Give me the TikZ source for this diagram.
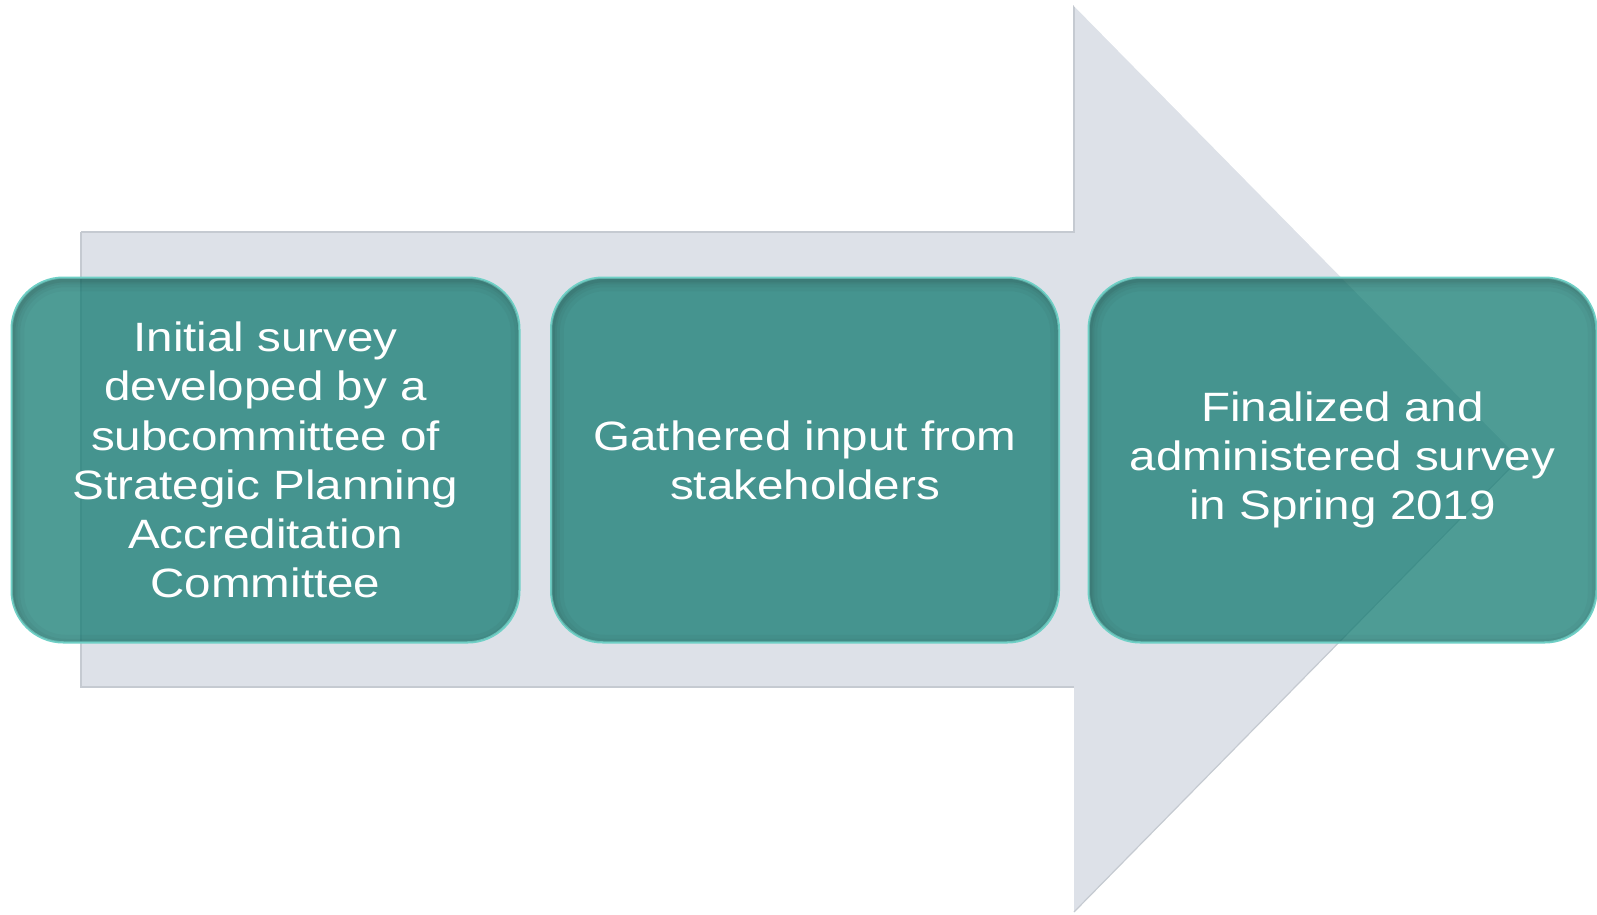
\documentclass[tikz,border=0pt]{standalone}
\usepackage{fontspec}
\setmainfont[FakeStretch=1.16]{Liberation Sans}
\definecolor{arrowgray}{HTML}{DDE1E8}
\definecolor{arrowedge}{HTML}{C5CAD1}
\definecolor{boxteal}{HTML}{137B72}
\definecolor{boxrim}{HTML}{6FD0C6}
\definecolor{boxshade}{HTML}{2A3F3D}
\tikzset{
  stagebox/.style={rounded corners=52pt, minimum width=507pt, minimum height=364pt,
    fill=boxteal, fill opacity=0.75, text opacity=1, draw=boxrim, line width=1.5pt,
    text=white, align=center, inner sep=0pt,
    font=\fontsize{41}{49.3}\selectfont},
  rimline/.style={draw=boxrim, line width=1.5pt, rounded corners=52pt}
}
\begin{document}
\begin{tikzpicture}[x=1pt,y=-1pt]
\useasboundingbox (0,0) rectangle (1597,914);
% big arrow
\coordinate (bodytl) at (81,232);
\coordinate (bodybl) at (81,687);
\coordinate (headtop) at (1074,5);
\coordinate (headbot) at (1074,912);
\coordinate (tip) at (1520,458);
\fill[arrowgray] (bodytl) -- (1074,232) -- (headtop) -- (tip) -- (headbot) -- (1074,687) -- (bodybl) -- cycle;
\draw[arrowedge, line width=1.2pt] (bodytl) -- (1074,232) -- (headtop);
\draw[white, line width=1.5pt] (headtop) -- (tip);
\draw[arrowedge, line width=1.2pt] (tip) -- (headbot);
\draw[arrowedge, line width=1.2pt] (1074,687) -- (bodybl) -- (bodytl);
% boxes
\node[stagebox] (s1) at (265.5,460) {Initial survey\\developed by a\\subcommittee of\\Strategic Planning\\Accreditation\\Committee};
\node[stagebox] (s2) at (805,460) {Gathered input from\\stakeholders};
\node[stagebox] (s3) at (1342.5,460) {Finalized and\\administered survey\\in Spring 2019};
% inner shading near the edges (stronger at bottom-left)
\foreach \n in {s1,s2,s3}{
  \begin{scope}
    \clip[rounded corners=52pt] (\n.south west) rectangle (\n.north east);
    \foreach \w/\o in {22/0.05,14/0.06,8/0.08,4/0.1}{
      \draw[draw=boxshade, line width=\w pt, draw opacity=\o, rounded corners=52pt]
        ([shift={(2pt,-3pt)}]\n.south west) rectangle ([shift={(2pt,-3pt)}]\n.north east);
    }
  \end{scope}
  \draw[rimline] (\n.south west) rectangle (\n.north east);
}
\end{tikzpicture}
\end{document}
